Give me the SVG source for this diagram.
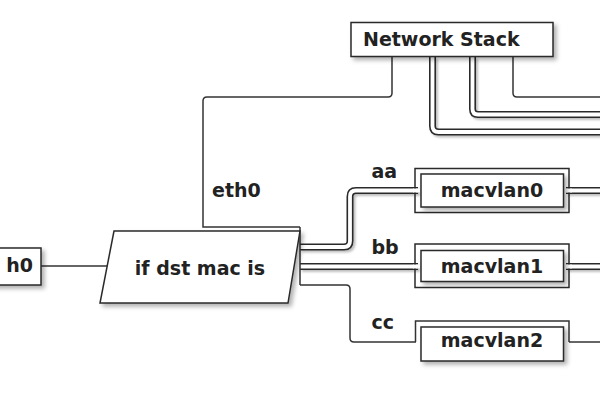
<svg xmlns="http://www.w3.org/2000/svg" width="600" height="400" viewBox="0 0 600 400">
<defs>
<filter id="sh" x="-10%" y="-20%" width="130%" height="150%">
<feDropShadow dx="3" dy="3" stdDeviation="2" flood-color="#000" flood-opacity="0.3"/>
</filter>
<filter id="lsh" x="-5%" y="-5%" width="110%" height="110%">
<feDropShadow dx="2" dy="2" stdDeviation="1.2" flood-color="#000" flood-opacity="0.25"/>
</filter>
</defs>
<style>
text{font-family:"DejaVu Sans","Liberation Sans",sans-serif;font-weight:bold;font-size:19px;fill:#222}
.box{fill:#fff;stroke:#2a2a2a;stroke-width:1.5}
.frame{fill:none;stroke:#2a2a2a;stroke-width:1.5}
.ln{fill:none;stroke:#333;stroke-width:1.5}
.dO{fill:none;stroke:#2a2a2a;stroke-width:7}
.dI{fill:none;stroke:#fff;stroke-width:3.8}
</style>
<rect width="600" height="400" fill="#fff"/>

<g id="connectors">
  <path class="ln" d="M392,57 V93 Q392,97 388,97 H207 Q203,97 203,101 V227 H300"/>
  <path class="ln" d="M513,57 V93 Q513,97 517,97 H600"/>
  <path class="ln" d="M41,266 H108"/>
  <path class="ln" d="M300,285 H346 Q350,285 350,289 V338 Q350,342 354,342 H416"/>
  <path class="ln" d="M569,342 H600"/>
  <g filter="url(#lsh)">
    <path class="dO" d="M432.5,57 V126 Q432.5,132 438.5,132 H605"/>
    <path class="dO" d="M472.5,57 V109 Q472.5,114.5 478,114.5 H605"/>
    <path class="dO" d="M300,247 H344 Q350,247 350,241 V196.5 Q350,190.5 356,190.5 H418"/>
    <path class="dO" d="M300,266.5 H418"/>
    <path class="dO" d="M566,190.5 H605"/>
    <path class="dO" d="M566,266.5 H605"/>
  </g>
  <path class="dI" d="M432.5,57 V126 Q432.5,132 438.5,132 H605"/>
  <path class="dI" d="M472.5,57 V109 Q472.5,114.5 478,114.5 H605"/>
  <path class="dI" d="M300,247 H344 Q350,247 350,241 V196.5 Q350,190.5 356,190.5 H418"/>
  <path class="dI" d="M300,266.5 H418"/>
  <path class="dI" d="M566,190.5 H605"/>
  <path class="dI" d="M566,266.5 H605"/>
  <path class="ln" d="M300,227 V285"/>
  <text x="212" y="196.5">eth0</text>
  <text x="371.5" y="178">aa</text>
  <text x="371.5" y="254">bb</text>
  <text x="371.5" y="329">cc</text>
</g>

<g id="network-stack">
  <rect class="box" x="351" y="22.5" width="202" height="34" filter="url(#sh)"/>
  <text x="363" y="46">Network Stack</text>
</g>

<g id="eth0">
  <rect class="box" x="-60" y="248" width="101" height="37" filter="url(#sh)"/>
  <text x="33" y="272" text-anchor="end">h0</text>
</g>

<g id="if-dst-mac">
  <polygon class="box" points="114,231 300,231 288,303 100,303" filter="url(#sh)"/>
  <text x="200" y="275" text-anchor="middle">if dst mac is</text>
</g>

<g id="macvlan0">
  <rect class="frame" x="415" y="168.5" width="154" height="44"/>
  <path class="dI" d="M413,190.5 H420"/>
  <path class="dI" d="M564,190.5 H572"/>
  <rect class="box" x="421" y="174" width="142.5" height="33" filter="url(#sh)"/>
  <text x="492" y="196.5" text-anchor="middle">macvlan0</text>
</g>

<g id="macvlan1">
  <rect class="frame" x="415" y="244" width="154" height="43.5"/>
  <path class="dI" d="M413,266.5 H420"/>
  <path class="dI" d="M564,266.5 H572"/>
  <rect class="box" x="421" y="250.5" width="142.5" height="31" filter="url(#sh)"/>
  <text x="492" y="273.3" text-anchor="middle">macvlan1</text>
</g>

<g id="macvlan2">
  <path class="ln" d="M415.5,342 V321 H569 V342"/>
  <rect class="box" x="421" y="327" width="142.5" height="34" filter="url(#sh)"/>
  <text x="492" y="347.3" text-anchor="middle">macvlan2</text>
</g>
</svg>
